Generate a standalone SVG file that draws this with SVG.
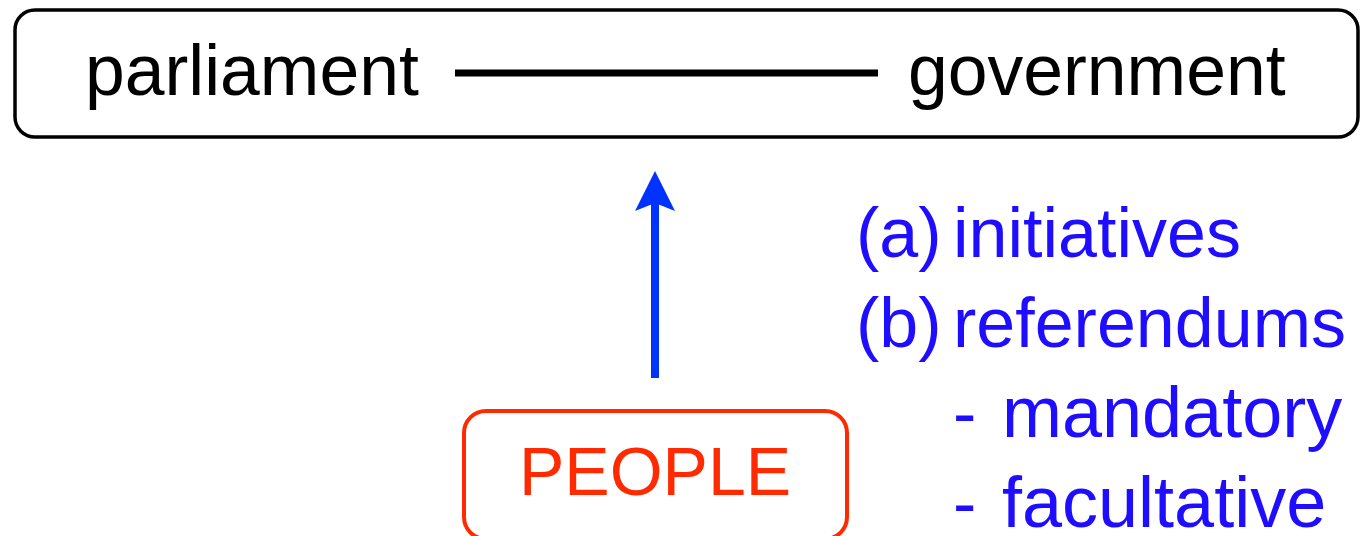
<svg xmlns="http://www.w3.org/2000/svg" width="1360" height="536" viewBox="0 0 1360 536">
  <style>
    text { font-family: "Liberation Sans", Arial, Helvetica, sans-serif; }
    .inst { font-size: 71.5px; fill: #000; }
    .people { font-size: 68px; fill: #ff2a00; }
    .note { font-size: 70px; fill: #1f0dff; }
  </style>
  <defs>
    <!-- arrow tip sits 22px beyond the line end so the shaft hides inside the head -->
    <marker id="arrowhead" markerUnits="userSpaceOnUse" markerWidth="42" markerHeight="42" refX="18" refY="20" orient="auto">
      <path d="M0,0 L40,20 L0,40 L8,20 Z" fill="#0033ff"/>
    </marker>
  </defs>

  <!-- Institutions: parliament and government -->
  <g id="institutions">
    <rect x="15" y="10" width="1343" height="127" rx="20" ry="20" fill="none" stroke="#000" stroke-width="3.5"/>
    <text class="inst" x="85" y="95">parliament</text>
    <text class="inst" x="908" y="95">government</text>
  </g>

  <!-- People -->
  <g id="people">
    <rect x="464" y="411" width="383" height="128" rx="22" ry="22" fill="none" stroke="#ff2a00" stroke-width="4"/>
    <text class="people" x="519" y="495">PEOPLE</text>
  </g>

  <!-- Instruments of direct democracy -->
  <g id="instruments">
    <text class="note" x="856" y="257">(a)<tspan x="953">initiatives</tspan></text>
    <text class="note" x="856" y="347">(b)<tspan x="953">referendums</tspan></text>
    <text class="note" x="953" y="437">-<tspan x="1002" font-size="72">mandatory</tspan></text>
    <text class="note" x="953" y="527">-<tspan x="1002" font-size="72">facultative</tspan></text>
  </g>

  <!-- Connectors -->
  <g id="connectors">
    <line x1="455" y1="73" x2="878" y2="73" stroke="#000" stroke-width="7"/>
    <line x1="655" y1="378" x2="655" y2="193" stroke="#0033ff" stroke-width="8" marker-end="url(#arrowhead)"/>
  </g>
</svg>
